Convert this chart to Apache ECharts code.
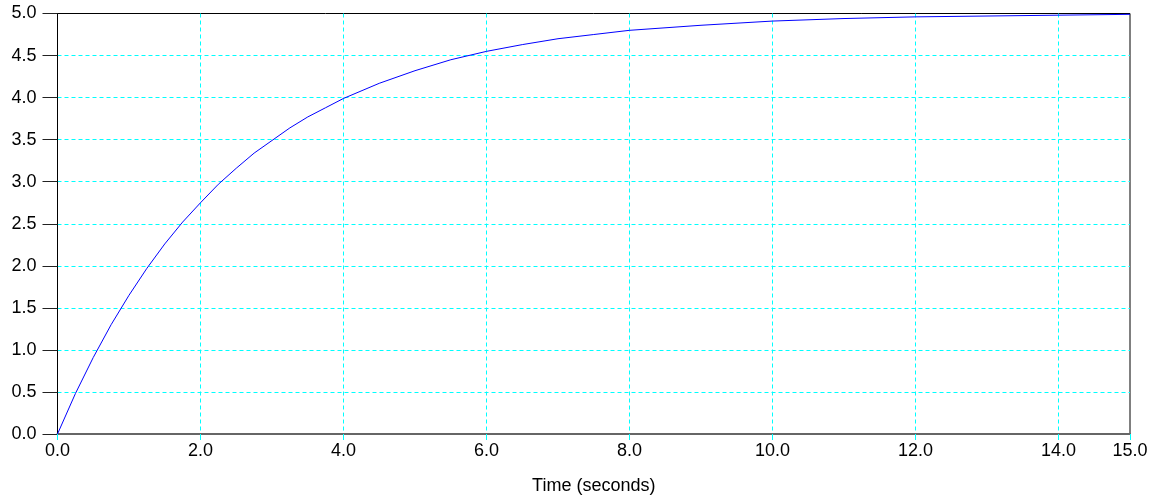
<!DOCTYPE html>
<html>
<head>
	<meta charset="utf-8"/>
	<title>Step response</title>
	<style type="text/css">
		html,body{
			margin: 0;
			padding: 0;
			background: #fff;
		}
		#chart{
			width: 1154px;
			height: 500px;
		}
	</style>
</head>
<body>
	<div id="chart"></div>

	<script src="https://cdn.jsdelivr.net/npm/echarts@6/dist/echarts.min.js"></script>
	<script type="text/javascript">

		// data
		var times  = [0, 0.25, 0.5, 0.75, 1.0, 1.25, 1.5, 1.75, 2.0, 2.25, 2.5, 2.75, 3.0, 3.25, 3.5, 3.75, 4.0,
		              4.5, 5.0, 5.5, 6.0, 6.5, 7.0, 7.5, 8.0, 9, 10, 11, 12, 13, 14, 15];
		var values = [0, 0.48, 0.91, 1.30, 1.65, 1.97, 2.26, 2.52, 2.75, 2.97, 3.16, 3.34, 3.49, 3.64, 3.77, 3.88, 3.99,
		              4.17, 4.32, 4.45, 4.55, 4.63, 4.70, 4.75, 4.80, 4.86, 4.91, 4.94, 4.96, 4.97, 4.98, 4.99];
		var xName = 'Time (seconds)';

		var points = [];
		for(var i=0;i<times.length;i++){
			points.push([times[i], values[i]]);
		}

		var chart = echarts.init(document.getElementById('chart'));

		var option = {
			animation: false,
			backgroundColor: '#fff',
			textStyle: {
				fontFamily: 'Liberation Sans, Arial, sans-serif'
			},
			grid: {
				left: 57.5,
				top: 13.5,
				width: 1072.5,
				height: 430,
				show: true,
				borderColor: '#000',
				borderWidth: 1,
				backgroundColor: 'transparent'
			},
			xAxis: {
				type: 'value',
				min: 0,
				max: 15,
				interval: 2,
				name: xName,
				nameLocation: 'middle',
				nameGap: 43,
				nameTextStyle: {
					color: '#000',
					fontSize: 18
				},
				axisLine: {
					lineStyle: { color: '#666', width: 2 }
				},
				axisTick: {
					length: 6,
					lineStyle: { color: '#00ffff', width: 1 }
				},
				axisLabel: {
					color: '#000',
					fontSize: 18,
					margin: 8,
					formatter: function(v){ return v.toFixed(1); }
				},
				splitLine: {
					show: true,
					showMinLine: false,
					showMaxLine: false,
					lineStyle: { color: '#00ffff', type: [4, 3], width: 1 }
				}
			},
			yAxis: {
				type: 'value',
				min: 0,
				max: 5,
				interval: 0.5,
				axisLine: {
					show: true,
					lineStyle: { color: '#000', width: 1 }
				},
				axisTick: {
					show: true,
					length: 15,
					lineStyle: { color: '#222', width: 1 }
				},
				axisLabel: {
					color: '#000',
					fontSize: 18,
					margin: 21,
					formatter: function(v){ return v.toFixed(1); }
				},
				splitLine: {
					show: true,
					showMinLine: false,
					showMaxLine: false,
					lineStyle: { color: '#00ffff', type: [4, 3], width: 1 }
				}
			},
			series: [
				{
					type: 'line',
					data: points,
					showSymbol: false,
					lineStyle: { color: '#0000ff', width: 1 }
				}
			]
		};

		chart.setOption(option);
	</script>
</body>
</html>
